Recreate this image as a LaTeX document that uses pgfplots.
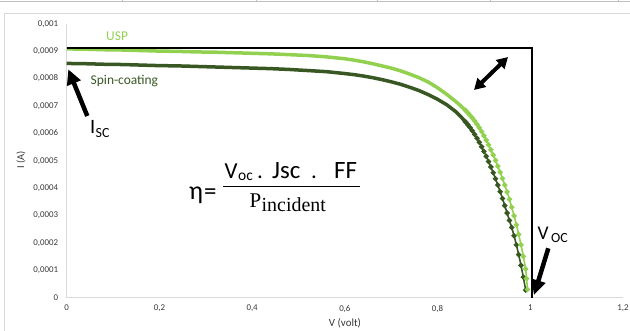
\documentclass[border=0pt]{standalone}
\usepackage{pgfplots}
\pgfplotsset{compat=1.18}
\usepackage{fontspec}
\setmainfont{Carlito}
\newfontfamily\seriffont{Liberation Serif}
\usetikzlibrary{arrows.meta}
\definecolor{usp}{RGB}{146,208,80}
\definecolor{spin}{RGB}{56,87,35}
\definecolor{tickgray}{RGB}{55,55,55}
\definecolor{axgray}{RGB}{217,217,217}
\begin{document}
\begin{tikzpicture}
\path[use as bounding box] (0,0) rectangle (630bp,-331bp);
% chart frame and sheet strip
\draw[axgray, line width=0.8bp] (4.5bp,-340bp) -- (4.5bp,-13bp) -- (640bp,-13bp);
\draw[black!25, line width=1bp] (0,-1bp) -- (630bp,-1bp);
\foreach \x in {122,256,377,490,618} \draw[black!25, line width=0.6bp] (\x bp,0) -- (\x bp,-2bp);
\begin{axis}[
  at={(66.7bp,-297.7bp)}, anchor=south west,
  scale only axis, width=556.3bp, height=274bp,
  xmin=0, xmax=1.2, ymin=0, ymax=0.001,
  axis x line=bottom, axis y line=left,
  axis line style={axgray, line width=0.8bp, -},
  xtick={0,0.2,0.4,0.6,0.8,1,1.2},
  ytick={0,0.0001,0.0002,0.0003,0.0004,0.0005,0.0006,0.0007,0.0008,0.0009,0.001},
  major tick length=0,
  scaled y ticks=false, scaled x ticks=false,
  xticklabel style={/tikz/yshift=-4bp, /pgf/number format/.cd, fixed, use comma, precision=1},
  yticklabel style={/tikz/xshift=-5bp, /pgf/number format/.cd, fixed, use comma, precision=4},
  /pgf/number format/assume math mode=true,
  tick label style={font=\fontsize{8.9}{10}\selectfont, text=tickgray},
]
% Spin-coating
\addplot[spin, line width=3.5bp, no marks] table {
0.00 8.55e-4
0.04 8.54e-4
0.08 8.52e-4
0.12 8.51e-4
0.16 8.49e-4
0.20 8.47e-4
0.24 8.46e-4
0.28 8.44e-4
0.32 8.42e-4
0.36 8.40e-4
0.40 8.38e-4
0.44 8.36e-4
0.48 8.33e-4
0.52 8.29e-4
0.56 8.25e-4
0.60 8.18e-4
0.62 8.14e-4
0.64 8.09e-4
0.66 8.03e-4
0.68 7.96e-4
0.70 7.88e-4
0.72 7.79e-4
0.74 7.68e-4
0.76 7.56e-4
0.78 7.41e-4
0.80 7.24e-4
0.82 7.04e-4
0.84 6.78e-4
0.85 6.61e-4
0.86 6.42e-4
0.87 6.21e-4
};
\addplot[spin, line width=1.6bp, mark=*, mark size=1.8bp, mark options={fill=spin}] table {
0.860 6.42e-4
0.865 6.32e-4
0.870 6.21e-4
0.875 6.09e-4
0.880 5.96e-4
0.885 5.82e-4
0.890 5.67e-4
0.895 5.51e-4
0.900 5.34e-4
0.905 5.16e-4
0.910 4.97e-4
0.915 4.77e-4
0.920 4.56e-4
0.925 4.34e-4
0.930 4.11e-4
0.935 3.87e-4
0.940 3.62e-4
0.945 3.36e-4
0.950 3.09e-4
0.955 2.82e-4
0.960 2.56e-4
0.965 2.26e-4
0.970 1.93e-4
0.975 1.57e-4
0.980 1.18e-4
0.985 0.75e-4
0.990 0.28e-4
};
% USP
\addplot[usp, line width=3.5bp, no marks] table {
0.00 9.08e-4
0.04 9.07e-4
0.08 9.05e-4
0.12 9.04e-4
0.16 9.02e-4
0.20 9.00e-4
0.24 8.99e-4
0.28 8.97e-4
0.32 8.96e-4
0.36 8.94e-4
0.40 8.92e-4
0.44 8.90e-4
0.48 8.87e-4
0.52 8.84e-4
0.56 8.79e-4
0.60 8.72e-4
0.62 8.67e-4
0.64 8.61e-4
0.66 8.54e-4
0.68 8.46e-4
0.70 8.38e-4
0.72 8.28e-4
0.74 8.16e-4
0.76 8.03e-4
0.78 7.87e-4
0.80 7.66e-4
0.82 7.42e-4
0.84 7.15e-4
0.85 7.00e-4
0.86 6.84e-4
0.87 6.66e-4
};
\addplot[usp, line width=1.6bp, mark=*, mark size=1.8bp, mark options={fill=usp}] table {
0.860 6.84e-4
0.865 6.75e-4
0.870 6.66e-4
0.875 6.56e-4
0.880 6.45e-4
0.885 6.33e-4
0.890 6.20e-4
0.895 6.06e-4
0.900 5.91e-4
0.905 5.75e-4
0.910 5.58e-4
0.915 5.40e-4
0.920 5.21e-4
0.925 5.01e-4
0.930 4.80e-4
0.935 4.58e-4
0.940 4.35e-4
0.945 4.11e-4
0.950 3.86e-4
0.955 3.59e-4
0.960 3.30e-4
0.965 2.99e-4
0.970 2.66e-4
0.975 2.31e-4
0.980 1.93e-4
0.985 1.51e-4
0.990 1.05e-4
0.992 0.70e-4
0.994 0.30e-4
};
% Isc / Voc box
\addplot[black, line width=2.6bp, no marks, line join=miter] coordinates {(0,9.11e-4) (1.004,9.11e-4) (1.004,0)};
\end{axis}
\begin{scope}[x=1bp, y=-1bp]
\node[rotate=90, text=tickgray, font=\fontsize{10.5}{12}\selectfont] at (21,160) {I (A)};
\node[text=tickgray, font=\fontsize{11}{12}\selectfont] at (345,323) {V (volt)};
\node[anchor=base west, inner sep=0, text=usp, font=\fontsize{13.5}{15}\selectfont] at (106,40.5) {USP};
\node[anchor=base west, inner sep=0, text=spin, font=\fontsize{13.5}{15}\selectfont] at (90.5,84.5) {Spin-coating};
% Isc
\node[anchor=base west, inner sep=0, font=\fontsize{20.5}{22}\selectfont] at (90,133.5) {I};
\node[anchor=base west, inner sep=0, font=\fontsize{14}{16}\selectfont] at (95.5,137.5) {SC};
% Voc
\node[anchor=base west, inner sep=0, font=\fontsize{19.5}{22}\selectfont] at (537.5,239.5) {V};
\node[anchor=base west, inner sep=0, font=\fontsize{14}{16}\selectfont] at (551,242.5) {OC};
% arrows
\draw[line width=4.5bp, -{Triangle[width=14bp,length=15bp]}] (87.3,116) -- (68.3,69.3);
\draw[line width=4bp, {Triangle[width=12bp,length=11bp]}-{Triangle[width=12bp,length=11bp]}] (474,90) -- (508,57);
\draw[line width=4.5bp, -{Triangle[width=14bp,length=15bp]}] (548.3,248.3) -- (534,295);
% equation
\node[anchor=base west, inner sep=0, font=\fontsize{26}{28}\selectfont] at (189,199.5) {η};
\node[anchor=base west, inner sep=0, font=\fontsize{25}{28}\selectfont] at (204,199.5) {=};
\draw[line width=1.4bp] (223,186.7) -- (360,186.7);
\node[anchor=base west, inner sep=0, font=\fontsize{23}{26}\selectfont] at (224.5,178) {V};
\node[anchor=base west, inner sep=0, font=\fontsize{15.5}{18}\selectfont] at (238,180.5) {oc};
\node[anchor=base west, inner sep=0, font=\fontsize{23}{26}\selectfont] at (257,178) {.};
\node[anchor=base west, inner sep=0, font=\fontsize{25}{28}\selectfont] at (272,178) {Jsc};
\node[anchor=base west, inner sep=0, font=\fontsize{23}{26}\selectfont] at (311,178) {.};
\node[anchor=base west, inner sep=0, font=\fontsize{25}{28}\selectfont] at (334,178) {FF};
\node[anchor=base west, inner sep=0, font=\seriffont\fontsize{21}{24}\selectfont] at (249.5,207) {P};
\node[anchor=base west, inner sep=0, font=\seriffont\fontsize{20}{23}\selectfont] at (261.5,211.5) {incident};
\end{scope}
\end{tikzpicture}
\end{document}
